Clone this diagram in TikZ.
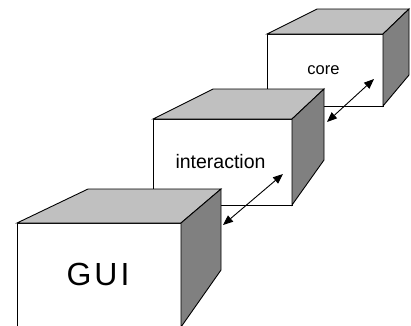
\documentclass[tikz,border=0pt]{standalone}
\usepackage{fontspec}
\setmainfont{Liberation Sans}
\usetikzlibrary{arrows.meta}
\definecolor{topface}{HTML}{C0C0C0}
\definecolor{sideface}{HTML}{808080}
\tikzset{
  face/.style={draw=black, line width=0.9pt, line join=miter},
  frontface/.style={face, fill=white},
  topfc/.style={face, fill=topface},
  sidefc/.style={face, fill=sideface},
  link/.style={line width=0.9pt, {Triangle[length=10pt,width=8pt]}-{Triangle[length=10pt,width=8pt]}},
  label/.style={font=#1, inner sep=0pt, anchor=center}
}
\begin{document}
\begin{tikzpicture}[x=1pt, y=-1pt]
  \clip (0,0) rectangle (411,325);
  \fill[white] (0,0) rectangle (411,325);

  % core layer (back)
  \draw[frontface] (267,34) -- (383,34) -- (383,106) -- (267,106) -- cycle;
  \draw[topfc] (267,34) -- (317,9) -- (409,9) -- (383,34) -- cycle;
  \draw[sidefc] (383,34) -- (409,9) -- (409,75) -- (383,106) -- cycle;
  \node[label=\fontsize{16.5}{18}\selectfont] (core) at (323.5,70) {core};

  % interaction layer (middle)
  \draw[frontface] (153,119) -- (292,119) -- (292,205) -- (153,205) -- cycle;
  \draw[topfc] (153,119) -- (213,89) -- (324,89) -- (292,119) -- cycle;
  \draw[sidefc] (292,119) -- (324,89) -- (324,160) -- (292,205) -- cycle;
  \node[label=\fontsize{19.5}{22}\selectfont] (interaction) at (220.5,162) {interaction};

  % GUI layer (front)
  \draw[frontface] (17,223) -- (181,223) -- (181,330) -- (17,330) -- cycle;
  \draw[topfc] (17,223) -- (88,189) -- (221,189) -- (181,223) -- cycle;
  \draw[sidefc] (181,223) -- (221,189) -- (221,270) -- (181,327) -- cycle;
  \node[label=\fontsize{32}{36}\selectfont] (gui) at (98,274.5) {G\kern3pt U\kern3pt I};

  % links between layers
  \coordinate (gi1) at (223,225);
  \coordinate (gi2) at (283,174);
  \coordinate (ic1) at (327,122);
  \coordinate (ic2) at (374,79);
  \draw[link] (gi1) -- (gi2);
  \draw[link] (ic1) -- (ic2);
\end{tikzpicture}
\end{document}
